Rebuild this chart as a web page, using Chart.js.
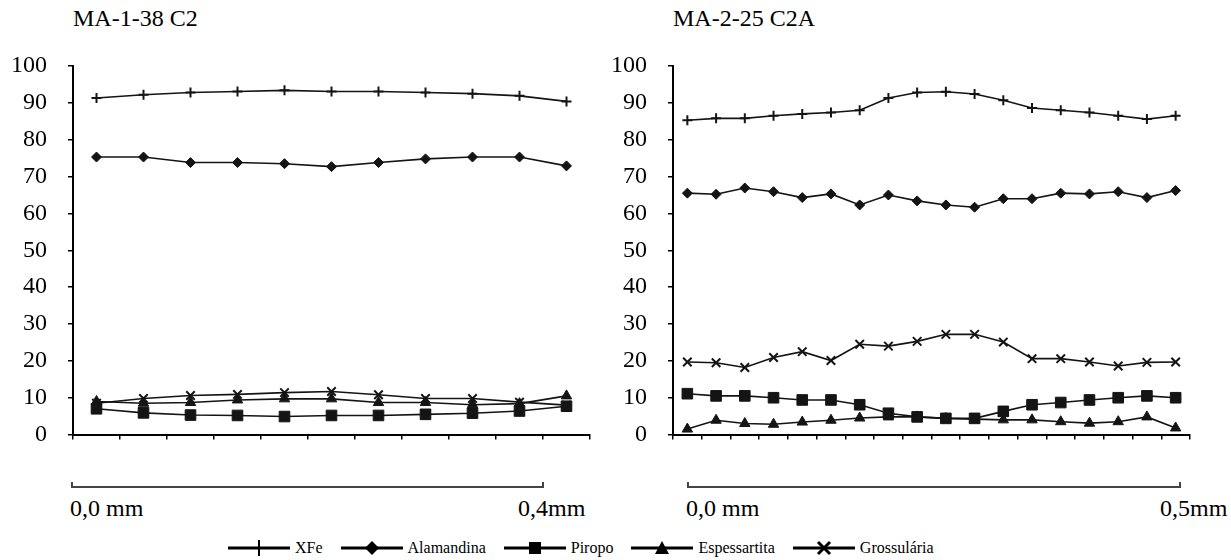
<!DOCTYPE html>
<html>
<head>
<meta charset="utf-8">
<script src="https://cdn.jsdelivr.net/npm/chart.js@4.4.1/dist/chart.umd.min.js"></script>
<style>
  html, body { margin:0; padding:0; background:#fff; }
  body { width:1231px; height:560px; position:relative; overflow:hidden; font-family:'Liberation Serif','Times New Roman',serif; color:#000; }
  .title { position:absolute; top:4px; font-size:24px; line-height:28px; white-space:nowrap; }
  canvas { position:absolute; top:0; }
  .bar { position:absolute; height:0; border-top:2px solid #444; }
  .bar:before, .bar:after { content:''; position:absolute; top:-6px; width:2px; height:6px; background:#444; }
  .bar:before { left:0; } .bar:after { right:0; }
  .sl { position:absolute; font-size:24px; line-height:28px; white-space:nowrap; }
  #legend { position:absolute; top:538px; left:228px; height:20px; display:flex; align-items:center; font-size:16px; white-space:nowrap; }
  #legend .it { display:flex; align-items:center; margin-right:18px; }
  #legend svg { margin-right:5px; }
</style>
</head>
<body>
<div class="title" style="left:73px;">MA-1-38 C2</div>
<div class="title" style="left:673px;">MA-2-25 C2A</div>
<canvas id="c1" width="600" height="470" style="left:0;"></canvas>
<canvas id="c2" width="631" height="470" style="left:600px;"></canvas>

<div class="bar" style="left:71px; width:473px; top:486px;"></div>
<div class="sl" style="left:70px; top:494px;">0,0 mm</div>
<div class="sl" style="left:518px; top:494px;">0,4mm</div>
<div class="bar" style="left:687px; width:494px; top:486px;"></div>
<div class="sl" style="left:686px; top:494px;">0,0 mm</div>
<div class="sl" style="left:1160px; top:494px;">0,5mm</div>

<div id="legend"></div>

<script>
// ---- data ----
const seriesNames = ['XFe', 'Alamandina', 'Piropo', 'Espessartita', 'Grossulária'];
const pointStyles = ['cross', 'rectRot', 'rect', 'triangle', 'crossRot'];

const leftCategories = ['1','2','3','4','5','6','7','8','9','10','11'];
const leftXFe  = [91.3, 92.2, 92.8, 93.1, 93.4, 93.1, 93.1, 92.8, 92.5, 91.9, 90.4];
const leftAlm  = [75.3, 75.3, 73.8, 73.8, 73.5, 72.7, 73.8, 74.8, 75.3, 75.3, 72.9];
const leftPir  = [7.0, 5.9, 5.3, 5.2, 4.9, 5.2, 5.2, 5.5, 5.8, 6.4, 7.7];
const leftEsp  = [9.0, 8.5, 8.7, 9.4, 9.7, 9.7, 8.7, 8.7, 8.1, 8.4, 10.5];
const leftGro  = [8.5, 9.8, 10.6, 10.9, 11.4, 11.7, 10.8, 9.8, 9.8, 8.8, 8.0];

const rightCategories = ['1','2','3','4','5','6','7','8','9','10','11','12','13','14','15','16','17','18'];
const rightXFe = [85.3, 85.8, 85.8, 86.5, 87.0, 87.4, 88.0, 91.3, 92.8, 93.0, 92.4, 90.7, 88.6, 88.0, 87.4, 86.5, 85.6, 86.5];
const rightAlm = [65.5, 65.2, 66.9, 65.9, 64.3, 65.3, 62.3, 65.0, 63.4, 62.3, 61.7, 64.0, 64.0, 65.5, 65.3, 65.9, 64.3, 66.2];
const rightPir = [11.1, 10.5, 10.5, 10.0, 9.4, 9.4, 8.1, 5.8, 4.8, 4.4, 4.4, 6.3, 8.1, 8.7, 9.4, 10.0, 10.5, 10.0];
const rightEsp = [1.5, 3.9, 3.0, 2.8, 3.4, 3.9, 4.5, 4.8, 4.8, 4.4, 4.2, 4.0, 4.0, 3.5, 3.1, 3.5, 4.8, 1.8];
const rightGro = [19.7, 19.5, 18.2, 20.9, 22.5, 20.1, 24.5, 24.0, 25.3, 27.2, 27.2, 25.1, 20.6, 20.6, 19.7, 18.6, 19.6, 19.7];

const yTickMin = 0, yTickMax = 100, yTickStep = 10;

// ---- styling ----
const INK = '#141414';
const radii = [5, 5, 7.5, 6, 6];
Chart.defaults.font.family = "'Liberation Serif', 'Times New Roman', serif";

function makeDatasets(arrs) {
  return arrs.map((d, i) => ({
    label: seriesNames[i],
    data: d,
    borderColor: INK,
    backgroundColor: INK,
    borderWidth: 1.6,
    pointStyle: pointStyles[i],
    pointRadius: radii[i],
    pointBorderWidth: (i === 0 || i === 4) ? 2 : 1,
    pointBackgroundColor: INK,
    pointBorderColor: INK,
    tension: 0,
    fill: false
  }));
}

function makeOptions(rightPad) {
  return {
    responsive: false,
    animation: false,
    layout: { padding: { top: 66, right: rightPad, bottom: 0, left: 0 } },
    plugins: { legend: { display: false }, tooltip: { enabled: false } },
    scales: {
      x: {
        type: 'category',
        offset: true,
        grid: { offset: true, drawOnChartArea: false, drawTicks: true, tickLength: 5, color: '#000', lineWidth: 1.5 },
        border: { display: true, color: '#000', width: 2 },
        ticks: { display: false },
        afterFit: s => { s.height = 17; }
      },
      y: {
        min: yTickMin, max: yTickMax,
        grid: { drawOnChartArea: false, drawTicks: true, tickLength: 5, color: '#000', lineWidth: 1.5 },
        border: { display: true, color: '#000', width: 2 },
        ticks: { stepSize: yTickStep, color: '#000', padding: 21, font: { family: "'Liberation Serif', 'Times New Roman', serif", size: 24 } },
        afterFit: s => { s.width = 73; }
      }
    }
  };
}

new Chart(document.getElementById('c1'), {
  type: 'line',
  data: { labels: leftCategories, datasets: makeDatasets([leftXFe, leftAlm, leftPir, leftEsp, leftGro]) },
  options: makeOptions(10)
});
new Chart(document.getElementById('c2'), {
  type: 'line',
  data: { labels: rightCategories, datasets: makeDatasets([rightXFe, rightAlm, rightPir, rightEsp, rightGro]) },
  options: makeOptions(41)
});

// ---- legend ----
const markerSvg = [
  '<line x1="31" y1="2" x2="31" y2="18" stroke="#000" stroke-width="2"/>',
  '<polygon points="31,3 38,10 31,17 24,10" fill="#000"/>',
  '<rect x="25" y="4" width="12" height="12" fill="#000"/>',
  '<polygon points="31,3 38,16 24,16" fill="#000"/>',
  '<line x1="25" y1="4" x2="37" y2="16" stroke="#000" stroke-width="3"/><line x1="37" y1="4" x2="25" y2="16" stroke="#000" stroke-width="3"/>'
];
const leg = document.getElementById('legend');
seriesNames.forEach((n, i) => {
  const it = document.createElement('span');
  it.className = 'it';
  it.innerHTML = '<svg width="62" height="20" viewBox="0 0 62 20"><line x1="0" y1="10" x2="62" y2="10" stroke="#000" stroke-width="3"/>' + markerSvg[i] + '</svg><span>' + n + '</span>';
  leg.appendChild(it);
});
</script>
</body>
</html>
